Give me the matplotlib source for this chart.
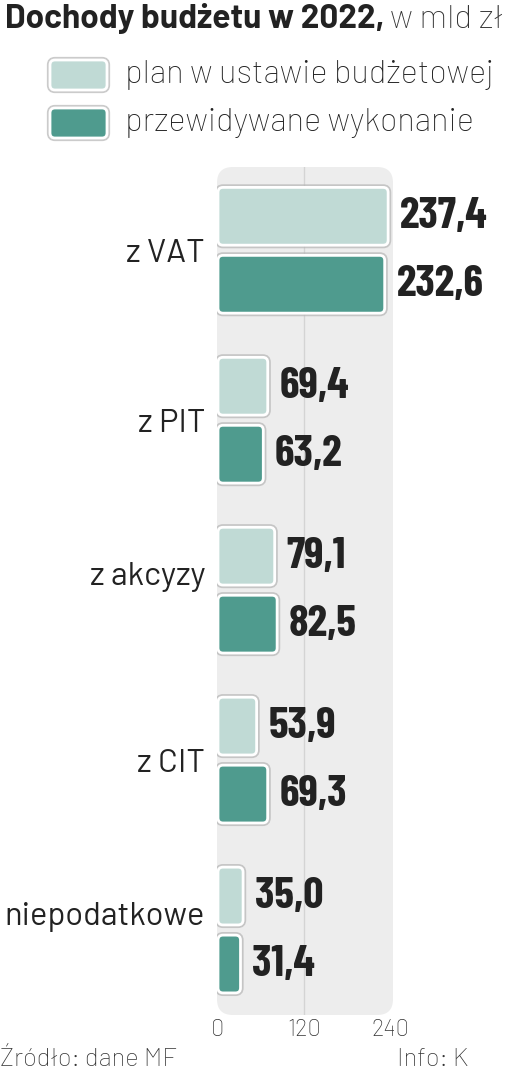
import matplotlib
matplotlib.use('Agg')
import matplotlib.pyplot as plt
import matplotlib.patheffects as pe
import matplotlib.transforms as mtransforms
from matplotlib.patches import FancyBboxPatch
from matplotlib.transforms import IdentityTransform

categories = ['z VAT', 'z PIT', 'z akcyzy', 'z CIT', 'niepodatkowe']
plan = [237.4, 69.4, 79.1, 53.9, 35.0]
wykonanie = [232.6, 63.2, 82.5, 69.3, 31.4]
x_ticks = [0, 120, 240]
legend_labels = ['plan w ustawie budżetowej', 'przewidywane wykonanie']

W, H = 517, 1080
c_plan = '#c0dad5'
c_wyk = '#4f9b8e'
light = dict(family=['Barlow', 'Roboto', 'DejaVu Sans'], weight='light')
regular = dict(family=['Barlow', 'Roboto', 'DejaVu Sans'], weight='normal')
bold = dict(family=['Barlow Condensed', 'Roboto Condensed', 'Archivo Narrow', 'DejaVu Sans'],
            weight='bold')

fig = plt.figure(figsize=(W / 100, H / 100), dpi=100)
ax = fig.add_axes([217 / W, 65 / H, 176 / W, 848 / H])
ax.set_xlim(-1.4, 244.2)
ax.set_ylim(4.5, -0.49)
ax.patch.set_visible(False)
for s in ax.spines.values():
    s.set_visible(False)

# gray rounded panel behind the bars
panel = FancyBboxPatch((0, 0), 1, 1, boxstyle='round,pad=0,rounding_size=0.09',
                       mutation_aspect=176 / 848, transform=ax.transAxes,
                       fc='#ededed', ec='none', zorder=0)
ax.add_patch(panel)
ax.axvline(120, color='#d4d4d4', lw=1, zorder=1)

# bars -> rounded boxes
px_x = 176 / (244.2 + 1.4)
px_y = 848 / 4.99
ypos = list(range(len(categories)))
b1 = ax.barh([y - 0.2 for y in ypos], plan, height=0.34)
b2 = ax.barh([y + 0.2 for y in ypos], wykonanie, height=0.34)
shadow = [pe.Stroke(linewidth=4.5, foreground='#b5b5b5', alpha=0.7), pe.Normal()]
for bars, col in ((b1, c_plan), (b2, c_wyk)):
    for r in bars:
        x0, y0, w, h = r.get_x(), r.get_y(), r.get_width(), r.get_height()
        r.set_visible(False)
        fb = FancyBboxPatch((x0, y0), w, h, boxstyle='round,pad=0,rounding_size=7',
                            mutation_aspect=px_x / px_y, fc=col, ec='white',
                            lw=2, zorder=3, path_effects=shadow)
        ax.add_patch(fb)

for vals, off in ((plan, -0.2), (wykonanie, 0.2)):
    for y, v in zip(ypos, vals):
        ax.annotate(f'{v:.1f}'.replace('.', ','), xy=(v, y + off), xytext=(8.5, 0),
                    textcoords='offset points', va='center', ha='left',
                    fontsize=32, color='#222222', **bold)

ax.set_xticks(x_ticks)
ax.set_xticklabels([str(t) for t in x_ticks], fontsize=17, color='#333333', **light)
ax.set_yticks(ypos)
ax.set_yticklabels(categories, fontsize=23.5, color='#222222', **regular)
ax.tick_params(axis='x', length=0, pad=3)
ax.tick_params(axis='y', length=0, pad=8.6)
# labels with descenders sit a bit higher in the original
for lbl in ax.get_yticklabels():
    if any(c in lbl.get_text() for c in 'pyqgj'):
        lbl.set_transform(lbl.get_transform() +
                          mtransforms.ScaledTranslation(0, 12 / 72, fig.dpi_scale_trans))

# title
t1 = fig.text(5 / W, 1 - 28 / H, 'Dochody budżetu w 2022,', fontsize=24,
              family=['Barlow', 'Roboto'], weight='bold', color='#222222', va='baseline')
fig.canvas.draw()
ext = t1.get_window_extent()
fig.text(ext.x1 / W + 6 / W, 1 - 28 / H, 'w mld zł', fontsize=24, color='#333333',
         va='baseline', **light)

# legend
for i, (lab, col) in enumerate(zip(legend_labels, [c_plan, c_wyk])):
    top = 60 + i * 48
    sw = FancyBboxPatch((50, H - top - 30), 57, 30, boxstyle='round,pad=0,rounding_size=5',
                        transform=IdentityTransform(), fc=col, ec='white', lw=2,
                        path_effects=shadow)
    fig.patches.append(sw)
    fig.text(125 / W, 1 - (top + 15) / H, lab, fontsize=23.5, color='#222222',
             va='center', **light)

fig.text(0, 1 - 1060 / H, 'Źródło: dane MF', fontsize=18.5, color='#333333', va='center', **light)
fig.text(397 / W, 1 - 1060 / H, 'Info: K', fontsize=18.5, color='#333333', va='center', **light)

fig.savefig('out.png', dpi=100)
